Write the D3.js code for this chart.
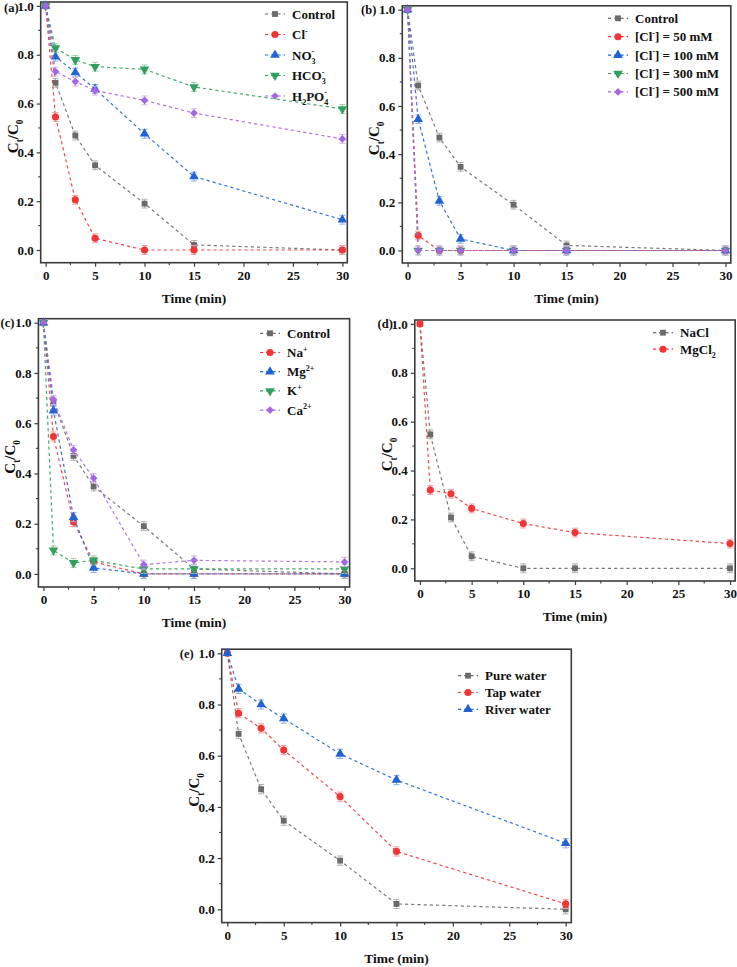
<!DOCTYPE html>
<html>
<head>
<meta charset="utf-8">
<script src="https://cdn.jsdelivr.net/npm/d3@7"></script>
<style>
  html, body { margin: 0; padding: 0; background: #fff; }
  svg { display: block; }
  svg text { font-family: "Times New Roman", "Liberation Serif", Times, serif; font-weight: bold; fill: #111; }
</style>
</head>
<body>
<svg id="chart" width="737" height="967"></svg>
<script>
// ---------------- data ----------------
const times = [0, 1, 3, 5, 10, 15, 30];
const xTicks = [0, 5, 10, 15, 20, 25, 30];
const yTicks = [0.0, 0.2, 0.4, 0.6, 0.8, 1.0];
const ERR = 0.018;

// (a) anions
const aLabels = ["Control", "Cl^-", "NO_3^-", "HCO_3^-", "H_2PO_4^-"];
const aControl = [1, 0.685, 0.469, 0.347, 0.190, 0.021, 0.000];
const aCl      = [1, 0.545, 0.206, 0.048, 0.000, 0.000, 0.000];
const aNO3     = [1, 0.792, 0.727, 0.660, 0.476, 0.301, 0.124];
const aHCO3    = [1, 0.827, 0.779, 0.751, 0.740, 0.668, 0.578];
const aH2PO4   = [1, 0.731, 0.690, 0.653, 0.613, 0.561, 0.455];

// (b) chloride concentration
const bLabels = ["Control", "[Cl^-] = 50 mM", "[Cl^-] = 100 mM", "[Cl^-] = 300 mM", "[Cl^-] = 500 mM"];
const bControl = [1, 0.685, 0.469, 0.347, 0.190, 0.021, 0.000];
const b50      = [1, 0.062, 0.000, 0.000, 0.000, 0.000, 0.000];
const b100     = [1, 0.545, 0.206, 0.048, 0.000, 0.000, 0.000];
const b300     = [1, 0.000, 0.000, 0.000, 0.000, 0.000, 0.000];
const b500     = [1, 0.000, 0.000, 0.000, 0.000, 0.000, 0.000];

// (c) cations
const cLabels = ["Control", "Na^+", "Mg^2+", "K^+", "Ca^2+"];
const cControl = [1, 0.686, 0.470, 0.348, 0.190, 0.020, 0.000];
const cNa      = [1, 0.547, 0.207, 0.048, 0.000, 0.000, 0.000];
const cMg      = [1, 0.650, 0.226, 0.024, 0.000, 0.000, 0.000];
const cK       = [1, 0.094, 0.044, 0.054, 0.020, 0.020, 0.020];
const cCa      = [1, 0.693, 0.494, 0.381, 0.037, 0.054, 0.048];

// (d) salts
const dLabels = ["NaCl", "MgCl_2"];
const dNaCl  = [1, 0.548, 0.208, 0.049, 0.000, 0.000, 0.000];
const dMgCl2 = [1, 0.320, 0.305, 0.245, 0.183, 0.146, 0.101];

// (e) water matrices
const eLabels = ["Pure water", "Tap water", "River water"];
const ePure  = [1, 0.685, 0.469, 0.346, 0.190, 0.021, 0.000];
const eTap   = [1, 0.766, 0.707, 0.622, 0.440, 0.226, 0.021];
const eRiver = [1, 0.861, 0.800, 0.745, 0.607, 0.505, 0.258];

// ---------------- styles ----------------
const STY = {
  gray:   {c: "#6a6a6a", e: "#b0b0b0", shape: "square"},
  red:    {c: "#f23434", e: "#f59a9a", shape: "circle"},
  blue:   {c: "#1f63d4", e: "#8fb0ea", shape: "up"},
  green:  {c: "#30a05c", e: "#98d0ad", shape: "down"},
  purple: {c: "#a566e3", e: "#d2b2f1", shape: "diamond"}
};
const order5 = ["gray", "red", "blue", "green", "purple"];

const panels = [
  {tag: "(a)", tagGap: 22, frame: [40.7, 2, 347.3, 262.7], values: [aControl, aCl, aNO3, aHCO3, aH2PO4], labels: aLabels, styles: order5,
   legend: {x: 265, y: 14, dy: 20.5}},
  {tag: "(b)", tagGap: 26, frame: [402.3, 5.8, 730.8, 263.0], values: [bControl, b50, b100, b300, b500], labels: bLabels, styles: order5,
   legend: {x: 608, y: 18.3, dy: 18.4}},
  {tag: "(c)", tagGap: 24, frame: [38.4, 318.7, 349.6, 587.0], values: [cControl, cNa, cMg, cK, cCa], labels: cLabels, styles: order5,
   legend: {x: 260, y: 333.3, dy: 19.2}},
  {tag: "(d)", tagGap: 22, frame: [414.8, 320.0, 735.2, 581.0], values: [dNaCl, dMgCl2], labels: dLabels, styles: ["gray", "red"],
   legend: {x: 653, y: 332.7, dy: 16.5}},
  {tag: "(e)", tagGap: 28, frame: [221.7, 649.2, 571.3, 922.6], values: [ePure, eTap, eRiver], labels: eLabels, styles: ["gray", "red", "blue"],
   legend: {x: 458, y: 675.7, dy: 16.8}}
];

const svg = d3.select("#chart");
const FRAME = "#3c3c3c";
const FONT = "'Times New Roman', 'Liberation Serif', Times, serif";

function symbolPath(shape) {
  switch (shape) {
    case "square":  return d3.symbol(d3.symbolSquare, 34)();
    case "circle":  return d3.symbol(d3.symbolCircle, 40)();
    case "up":      return d3.symbol(d3.symbolTriangle, 40)();
    case "down":    return d3.symbol(d3.symbolTriangle, 40)();
    case "diamond": return d3.symbol(d3.symbolSquare, 30)();
  }
}
function symbolRot(shape) {
  return shape === "down" ? 180 : shape === "diamond" ? 45 : 0;
}

// rich text: "_x" subscript run, "^x" superscript run
function richText(sel, str, size) {
  const parts = [];
  let i = 0, buf = "";
  while (i < str.length) {
    const ch = str[i];
    if (ch === "_" || ch === "^") {
      if (buf) { parts.push({t: buf, k: "n"}); buf = ""; }
      let j = i + 1, run = "";
      while (j < str.length && /[0-9a-z+\-]/.test(str[j])) { run += str[j]; j++; }
      parts.push({t: run, k: ch === "_" ? "sub" : "sup"});
      i = j;
    } else { buf += ch; i++; }
  }
  if (buf) parts.push({t: buf, k: "n"});
  let cur = 0, prev = null;
  parts.forEach(p => {
    const target = p.k === "sub" ? size * 0.32 : p.k === "sup" ? -size * 0.42 : 0;
    const ts = sel.append("tspan").text(p.t).attr("dy", target - cur);
    if (p.k !== "n") ts.attr("font-size", size * 0.62);
    if (p.k === "sup" && prev && prev.k === "sub") ts.attr("dx", -prev.t.length * size * 0.31);
    cur = target; prev = p;
  });
}

panels.forEach(P => {
  const [L, T, R, B] = P.frame;
  const x = d3.scaleLinear().domain([-0.5, 30.5]).range([L, R]);
  const y = d3.scaleLinear().domain([-0.052, 1.016]).range([B, T]);
  const g = svg.append("g");

  // axes (outward ticks)
  const xAxis = d3.axisBottom(x).tickValues(xTicks).tickSize(4).tickPadding(4).tickFormat(d3.format("d"));
  const yAxis = d3.axisLeft(y).tickValues(yTicks).tickSize(4).tickPadding(3).tickFormat(d3.format(".1f"));
  const gx = g.append("g").attr("transform", `translate(0,${B})`).call(xAxis);
  const gy = g.append("g").attr("transform", `translate(${L},0)`).call(yAxis);
  [gx, gy].forEach(a => {
    a.attr("font-family", FONT);
    a.select(".domain").remove();
    a.selectAll(".tick line").attr("stroke", FRAME).attr("stroke-width", 1.2);
    a.selectAll("text").attr("font-weight", "bold").attr("font-size", 13).attr("fill", "#111");
  });
  // minor ticks
  const xMinor = d3.range(2.5, 30, 5);
  g.selectAll(".xm").data(xMinor).join("line")
    .attr("x1", d => x(d)).attr("x2", d => x(d)).attr("y1", B).attr("y2", B + 2.5)
    .attr("stroke", FRAME).attr("stroke-width", 1.1);
  const yMinor = d3.range(0.1, 1.0, 0.2);
  g.selectAll(".ym").data(yMinor).join("line")
    .attr("x1", L).attr("x2", L - 2.5).attr("y1", d => y(d)).attr("y2", d => y(d))
    .attr("stroke", FRAME).attr("stroke-width", 1.1);

  // frame
  g.append("rect").attr("x", L).attr("y", T).attr("width", R - L).attr("height", B - T)
    .attr("fill", "none").attr("stroke", FRAME).attr("stroke-width", 1.6);

  // axis titles
  g.append("text").attr("x", (L + R) / 2).attr("y", B + 40).attr("text-anchor", "middle")
    .attr("font-size", 13.5).text("Time (min)");
  const yl = g.append("text")
    .attr("transform", `translate(${L - 23},${(T + B) / 2 + 4}) rotate(-90)`)
    .attr("text-anchor", "middle").attr("font-size", 15);
  richText(yl, "C_t/C_0", 15);

  // panel tag
  g.append("text").attr("x", L - P.tagGap).attr("y", Math.max(y(1) + 4.5, 12)).attr("text-anchor", "end")
    .attr("font-size", 12.5).text(P.tag);

  // series
  const line = d3.line().x((d, i) => x(times[i])).y(d => y(d));
  P.values.forEach((vals, si) => {
    const st = STY[P.styles[si]];
    const sg = g.append("g");
    sg.append("path").attr("d", line(vals)).attr("fill", "none")
      .attr("stroke", st.c).attr("stroke-width", 1.2).attr("stroke-dasharray", "3.2,3").attr("opacity", 0.9);
    const pts = vals.map((v, i) => ({t: times[i], v}));
    // error bars
    const eb = sg.selectAll(".eb").data(pts.filter(p => p.t > 0)).join("g");
    eb.append("line").attr("x1", d => x(d.t)).attr("x2", d => x(d.t))
      .attr("y1", d => y(d.v - ERR)).attr("y2", d => y(d.v + ERR)).attr("stroke", st.e).attr("stroke-width", 1);
    [-1, 1].forEach(s => {
      eb.append("line").attr("x1", d => x(d.t) - 3).attr("x2", d => x(d.t) + 3)
        .attr("y1", d => y(d.v + s * ERR)).attr("y2", d => y(d.v + s * ERR)).attr("stroke", st.e).attr("stroke-width", 1);
    });
    sg.selectAll(".mk").data(pts).join("path")
      .attr("d", symbolPath(st.shape))
      .attr("transform", d => `translate(${x(d.t)},${y(d.v)}) rotate(${symbolRot(st.shape)})`)
      .attr("fill", st.c);
  });

  // legend
  const lg = P.legend;
  P.labels.forEach((lab, i) => {
    const st = STY[P.styles[i]];
    const yy = lg.y + i * lg.dy;
    g.append("line").attr("x1", lg.x).attr("x2", lg.x + 20).attr("y1", yy).attr("y2", yy)
      .attr("stroke", st.c).attr("stroke-width", 1.2).attr("stroke-dasharray", "3.2,3");
    g.append("path").attr("d", symbolPath(st.shape))
      .attr("transform", `translate(${lg.x + 10},${yy}) rotate(${symbolRot(st.shape)})`).attr("fill", st.c);
    const t = g.append("text").attr("x", lg.x + 27).attr("y", yy + 4.5).attr("font-size", 13);
    richText(t, lab, 13);
  });
});
</script>
</body>
</html>
